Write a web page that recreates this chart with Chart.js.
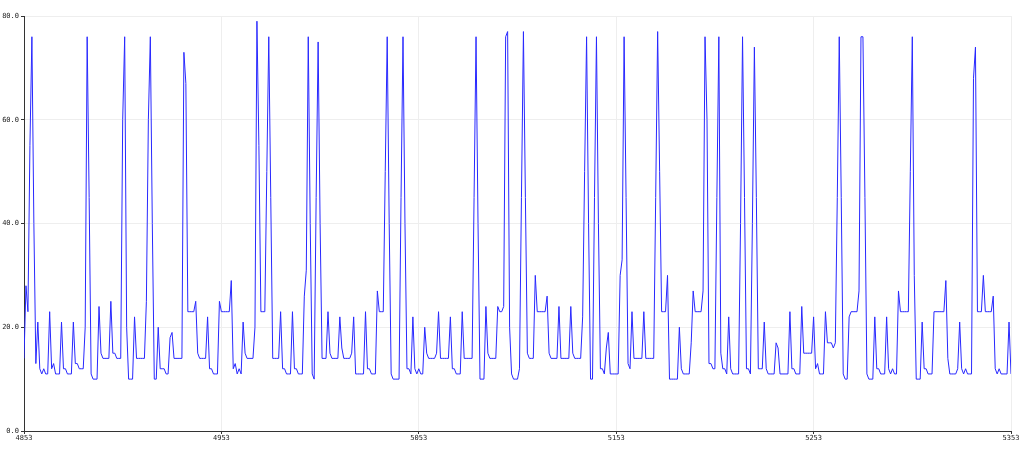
<!DOCTYPE html>
<html>
<head>
<meta charset="utf-8">
<script src="https://cdn.jsdelivr.net/npm/chart.js@4/dist/chart.umd.min.js"></script>
<style>
  html, body { margin: 0; padding: 0; background: #fff; }
  #wrap { width: 1024px; height: 450px; }
</style>
</head>
<body>
<div id="wrap"><canvas id="chart" width="1024" height="450"></canvas></div>
<script>
// x values run from xStart, one per reading
const xStart = 4853;
const xTicks = [4853, 4953, 5053, 5153, 5253, 5353];
const yTicks = [0, 20, 40, 60, 80];

// readings
const values = [
  14, 28, 23, 55, 76, 40, 13, 21, 12, 11, 12, 11, 11, 23, 12, 13, 11, 11, 11, 21,
  12, 12, 11, 11, 11, 21, 13, 13, 12, 12, 12, 20, 76, 45, 11, 10, 10, 10, 24, 15,
  14, 14, 14, 14, 25, 15, 15, 14, 14, 14, 60, 76, 20, 10, 10, 10, 22, 14, 14, 14,
  14, 14, 25, 60, 76, 40, 10, 10, 20, 12, 12, 12, 11, 11, 18, 19, 14, 14, 14, 14,
  14, 73, 67, 23, 23, 23, 23, 25, 15, 14, 14, 14, 14, 22, 12, 12, 11, 11, 11, 25,
  23, 23, 23, 23, 23, 29, 12, 13, 11, 12, 11, 21, 15, 14, 14, 14, 14, 20, 79, 55,
  23, 23, 23, 50, 76, 45, 14, 14, 14, 14, 23, 12, 12, 11, 11, 11, 23, 12, 12, 11,
  11, 11, 26, 31, 76, 40, 11, 10, 45, 75, 40, 14, 14, 14, 23, 15, 14, 14, 14, 14,
  22, 16, 14, 14, 14, 14, 15, 22, 11, 11, 11, 11, 11, 23, 12, 12, 11, 11, 11, 27,
  23, 23, 23, 50, 76, 40, 11, 10, 10, 10, 10, 45, 76, 40, 12, 12, 11, 22, 12, 11,
  12, 11, 11, 20, 15, 14, 14, 14, 14, 15, 23, 14, 14, 14, 14, 14, 22, 12, 12, 11,
  11, 11, 23, 14, 14, 14, 14, 14, 45, 76, 40, 10, 10, 10, 24, 15, 14, 14, 14, 14,
  24, 23, 23, 24, 76, 77, 20, 11, 10, 10, 10, 12, 45, 77, 45, 15, 14, 14, 14, 30,
  23, 23, 23, 23, 23, 26, 15, 14, 14, 14, 14, 24, 14, 14, 14, 14, 14, 24, 15, 14,
  14, 14, 14, 22, 50, 76, 40, 10, 10, 45, 76, 40, 12, 12, 11, 16, 19, 11, 11, 11,
  11, 11, 30, 33, 76, 45, 13, 12, 23, 14, 14, 14, 14, 14, 23, 14, 14, 14, 14, 14,
  45, 77, 50, 23, 23, 23, 30, 10, 10, 10, 10, 10, 20, 12, 11, 11, 11, 11, 17, 27,
  23, 23, 23, 23, 27, 76, 60, 13, 13, 12, 12, 45, 76, 15, 12, 12, 11, 22, 12, 11,
  11, 11, 11, 40, 76, 45, 12, 12, 11, 40, 74, 45, 12, 12, 12, 21, 12, 11, 11, 11,
  11, 17, 16, 11, 11, 11, 11, 11, 23, 12, 12, 11, 11, 11, 24, 15, 15, 15, 15, 15,
  22, 12, 13, 11, 11, 11, 23, 17, 17, 17, 16, 17, 45, 76, 45, 11, 10, 10, 22, 23,
  23, 23, 23, 27, 76, 76, 45, 11, 10, 10, 10, 22, 12, 12, 11, 11, 11, 22, 12, 11,
  12, 11, 11, 27, 23, 23, 23, 23, 23, 50, 76, 30, 10, 10, 10, 21, 12, 12, 11, 11,
  11, 23, 23, 23, 23, 23, 23, 29, 14, 11, 11, 11, 11, 12, 21, 12, 11, 12, 11, 11,
  11, 68, 74, 23, 23, 23, 30, 23, 23, 23, 23, 26, 12, 11, 12, 11, 11, 11, 11, 21,
  11
];

const points = values.map((v, i) => ({ x: xStart + i, y: v }));

const tickFont = { family: 'DejaVu Sans Mono', size: 7 };

document.addEventListener('DOMContentLoaded', function() {
    const ctx = document.getElementById('chart').getContext('2d');
    new Chart(ctx, {
        type: 'line',
        data: {
            datasets: [{
                data: points,
                borderColor: 'rgb(40, 40, 255)',
                borderWidth: 1,
                pointRadius: 0,
                tension: 0,
                fill: false
            }]
        },
        options: {
            responsive: false,
            animation: false,
            devicePixelRatio: 1,
            layout: { padding: { top: 16, right: 13, left: 0, bottom: 0 } },
            plugins: {
                legend: { display: false },
                tooltip: { enabled: false }
            },
            scales: {
                x: {
                    type: 'linear',
                    min: xTicks[0],
                    max: xTicks[xTicks.length - 1],
                    afterBuildTicks: axis => { axis.ticks = xTicks.map(v => ({ value: v })); },
                    afterFit: axis => { axis.height = 19; },
                    grid: { color: '#eeeeee', tickColor: '#333', tickLength: 3 },
                    border: { color: '#333', width: 1 },
                    ticks: {
                        font: tickFont,
                        color: '#222',
                        padding: 0,
                        maxRotation: 0,
                        autoSkip: false,
                        callback: v => String(v)
                    }
                },
                y: {
                    min: yTicks[0],
                    max: yTicks[yTicks.length - 1],
                    afterBuildTicks: axis => { axis.ticks = yTicks.map(v => ({ value: v })); },
                    afterFit: axis => { axis.width = 24; },
                    grid: { color: '#eeeeee', tickColor: '#333', tickLength: 3 },
                    border: { color: '#333', width: 1 },
                    ticks: {
                        font: tickFont,
                        color: '#222',
                        padding: 2,
                        callback: v => v.toFixed(1)
                    }
                }
            }
        }
    });
});
</script>
</body>
</html>
